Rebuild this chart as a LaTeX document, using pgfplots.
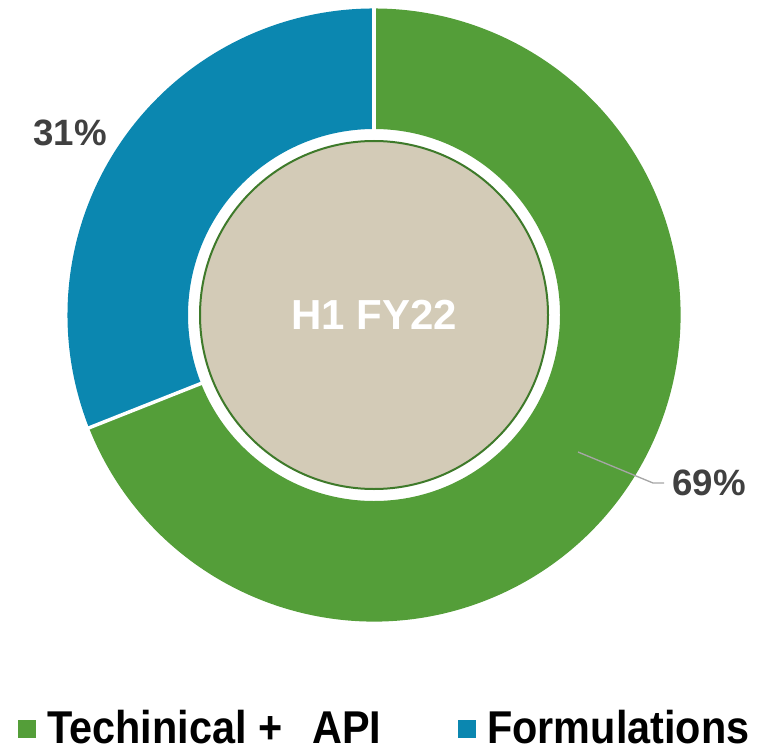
\documentclass[border=0pt]{standalone}
\usepackage{pgfplots}
\pgfplotsset{compat=1.18}
\usepackage{pgfplotstable}
\usepackage{fontspec}
\setmainfont{Liberation Sans}
\newfontfamily\legfont[FakeStretch=0.9]{Liberation Sans}
\definecolor{cGreen}{HTML}{549E39}
\definecolor{cBlue}{HTML}{0B87B0}
\definecolor{cBeige}{HTML}{D3CBB7}
\definecolor{cBorder}{HTML}{3E7A2A}
\definecolor{cLabel}{HTML}{404040}
\definecolor{cLead}{HTML}{A6A6A6}

\begin{document}
\begin{tikzpicture}
% share of H1 FY22
\pgfplotstableread{
label value
Technical 69
Formulations 31
}\piedata
\pgfplotstablegetelem{1}{value}\of\piedata
\pgfmathsetmacro\angB{90+3.6*\pgfplotsretval}
\def\Ro{229.9pt}
\def\Ri{139.5pt}
\def\Rc{130.5pt}
\begin{axis}[
    width=574.5pt, height=564pt, scale only axis,
    xmin=0, xmax=766, ymin=0, ymax=752, y dir=reverse,
    hide axis, clip=false,
]
\path (axis cs:0,0) rectangle (axis cs:766,752);

% ring segments
\fill[cBlue] (axis cs:374,315) ++(90:\Ro) arc[start angle=90, end angle=\angB, radius=\Ro]
    -- ([shift={(\angB:\Ri)}]axis cs:374,315) arc[start angle=\angB, end angle=90, radius=\Ri] -- cycle;
\fill[cGreen] (axis cs:374,315) ++(\angB:\Ro) arc[start angle=\angB, end angle=450, radius=\Ro]
    -- ([shift={(450:\Ri)}]axis cs:374,315) arc[start angle=450, end angle=\angB, radius=\Ri] -- cycle;
% separators
\draw[white, line width=2.6pt] ([shift={(90:137pt)}]axis cs:374,315) -- ([shift={(90:232pt)}]axis cs:374,315);
\draw[white, line width=2.6pt] ([shift={(\angB:137pt)}]axis cs:374,315) -- ([shift={(\angB:232pt)}]axis cs:374,315);

% centre
\draw[cBorder, line width=1.5pt, fill=cBeige] (axis cs:374,315) circle[radius=\Rc];
\node[white, font=\bfseries\fontsize{31.5}{36}\selectfont] at (axis cs:374,315) {H1 FY22};

% data labels
\node[cLabel, font=\bfseries\fontsize{27.5}{32}\selectfont] at (axis cs:70,133) {31\%};
\draw[cLead, line width=1pt] (axis cs:578,452) -- (axis cs:653,483) -- (axis cs:664,483);
\node[cLabel, font=\bfseries\fontsize{27.5}{32}\selectfont] at (axis cs:709,483) {69\%};

% legend
\fill[cGreen] (axis cs:18,720) rectangle (axis cs:36,738);
\node[anchor=base west, inner sep=0pt, font=\legfont\bfseries\fontsize{34.5}{40}\selectfont] at (axis cs:47,743) {Techinical +\hspace{0.65em}API};
\fill[cBlue] (axis cs:458,720) rectangle (axis cs:476,738);
\node[anchor=base west, inner sep=0pt, font=\legfont\bfseries\fontsize{34.5}{40}\selectfont] at (axis cs:487,743) {Formulations};
\end{axis}
\end{tikzpicture}
\end{document}
